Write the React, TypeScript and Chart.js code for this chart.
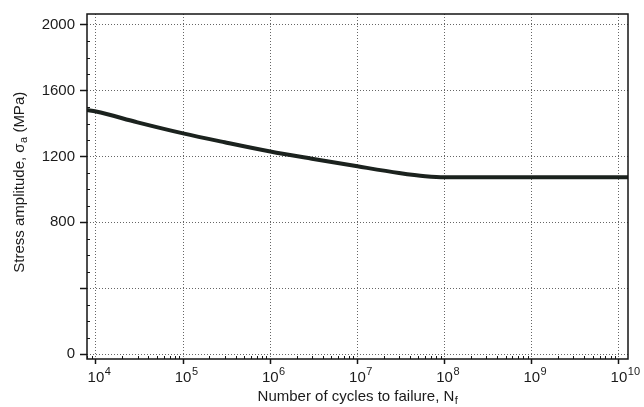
import React, { useEffect, useRef } from "react";
import { Chart, registerables } from "chart.js";

Chart.register(...registerables);

const cycles = [7900, 1e4, 3e4, 1e5, 3e5, 1e6, 3e6, 1e7, 3e7, 6e7, 1e8, 1e9, 1.27e10];
const stress = [1482, 1473, 1407, 1340, 1286, 1230, 1186, 1140, 1100, 1080, 1073, 1073, 1073];
const xTickExponents = [4, 5, 6, 7, 8, 9, 10];
const yTickValues = [0, 400, 800, 1200, 1600, 2000];
const yTickLabels = ["0", "", "800", "1200", "1600", "2000"];

const FONT = "'Liberation Sans', Arial, sans-serif";

const overlay = {
  id: "overlay",
  afterDraw(chart: any) {
    const { ctx, chartArea, scales } = chart;
    const { left, right, top, bottom } = chartArea;
    const x = scales.x;
    const y = scales.y;
    ctx.save();
    ctx.strokeStyle = "#151515";
    ctx.lineWidth = 1.5;
    ctx.strokeRect(left, top, right - left, bottom - top);
    // minor ticks
    ctx.lineWidth = 1;
    ctx.beginPath();
    for (let n = 3; n <= 10; n++) {
      for (let m = 2; m <= 9; m++) {
        const v = m * Math.pow(10, n);
        if (v < x.min || v > x.max) continue;
        const px = Math.round(x.getPixelForValue(v)) + 0.5;
        ctx.moveTo(px, bottom);
        ctx.lineTo(px, bottom - 3);
      }
    }
    for (let v = 0; v <= 2000; v += 100) {
      if (v % 400 === 0) continue;
      const py = Math.round(y.getPixelForValue(v)) + 0.5;
      ctx.moveTo(left, py);
      ctx.lineTo(left + 3, py);
    }
    ctx.stroke();

    ctx.fillStyle = "#1a1a1a";
    ctx.textBaseline = "middle";
    ctx.textAlign = "left";

    // x tick labels with superscripts
    for (const e of xTickExponents) {
      const gx = x.getPixelForValue(Math.pow(10, e));
      ctx.font = `15px ${FONT}`;
      const wb = ctx.measureText("10").width;
      ctx.fillText("10", gx - wb / 2, 378);
      ctx.font = `11px ${FONT}`;
      ctx.fillText(String(e), gx + wb / 2 + 0.5, 372);
    }

    // x title
    const cx = (left + right) / 2;
    const ty = 397;
    const main = "Number of cycles to failure, N";
    ctx.font = `15px ${FONT}`;
    const w1 = ctx.measureText(main).width;
    ctx.font = `11px ${FONT}`;
    const w2 = ctx.measureText("f").width;
    const sx = cx - (w1 + w2) / 2;
    ctx.font = `15px ${FONT}`;
    ctx.fillText(main, sx, ty);
    ctx.font = `11px ${FONT}`;
    ctx.fillText("f", sx + w1 + 0.5, ty + 4);

    // y title
    ctx.translate(20, (top + bottom) / 2 - 4);
    ctx.rotate(-Math.PI / 2);
    const p1 = "Stress amplitude, σ";
    const p2 = "a";
    const p3 = " (MPa)";
    ctx.font = `15px ${FONT}`;
    const a1 = ctx.measureText(p1).width;
    const a3 = ctx.measureText(p3).width;
    ctx.font = `11px ${FONT}`;
    const a2 = ctx.measureText(p2).width;
    let px = -(a1 + a2 + a3) / 2;
    ctx.font = `15px ${FONT}`;
    ctx.fillText(p1, px, 0);
    px += a1;
    ctx.font = `11px ${FONT}`;
    ctx.fillText(p2, px + 0.5, 4);
    px += a2 + 0.5;
    ctx.font = `15px ${FONT}`;
    ctx.fillText(p3, px, 0);
    ctx.restore();
  },
};

export default function App() {
  const ref = useRef<HTMLCanvasElement>(null);
  useEffect(() => {
    const chart = new Chart(ref.current!, {
      type: "line",
      data: {
        datasets: [
          {
            data: cycles.map((c, i) => ({ x: c, y: stress[i] })),
            borderColor: "#1b221e",
            borderWidth: 4,
            pointRadius: 0,
            cubicInterpolationMode: "monotone",
            fill: false,
          },
        ],
      },
      options: {
        animation: false,
        responsive: false,
        maintainAspectRatio: false,
        layout: { padding: { left: 0, right: 16, top: 12, bottom: 0 } },
        plugins: { legend: { display: false }, tooltip: { enabled: false } },
        scales: {
          x: {
            type: "logarithmic",
            min: 7900,
            max: 1.27e10,
            afterBuildTicks: (s: any) => {
              s.ticks = xTickExponents.map((e) => ({ value: Math.pow(10, e) }));
            },
            afterFit: (s: any) => {
              s.height = 48;
            },
            ticks: { display: false },
            grid: {
              color: "#666",
              lineWidth: 1,
              tickLength: 5,
              tickColor: "#151515",
              tickWidth: 1.5,
            },
            border: { display: false, dash: [1, 2] },
          },
          y: {
            type: "linear",
            min: -30,
            max: 2065,
            afterBuildTicks: (s: any) => {
              s.ticks = yTickValues.map((v) => ({ value: v }));
            },
            afterFit: (s: any) => {
              s.width = 87;
            },
            ticks: {
              autoSkip: false,
              padding: 5,
              color: "#1a1a1a",
              font: { family: FONT, size: 15 },
              callback: (v: any) => {
                const i = yTickValues.indexOf(Number(v));
                return i >= 0 ? yTickLabels[i] : "";
              },
            },
            grid: {
              color: "#666",
              lineWidth: 1,
              tickLength: 7,
              tickColor: "#151515",
              tickWidth: 1.5,
            },
            border: { display: false, dash: [1, 2] },
          },
        },
      },
      plugins: [overlay],
    } as any);
    return () => chart.destroy();
  }, []);
  return (
    <div style={{ position: "fixed", left: 0, top: 0, width: 644, height: 407, background: "#fff" }}>
      <canvas ref={ref} width={644} height={407} style={{ display: "block", width: 644, height: 407 }} />
    </div>
  );
}
